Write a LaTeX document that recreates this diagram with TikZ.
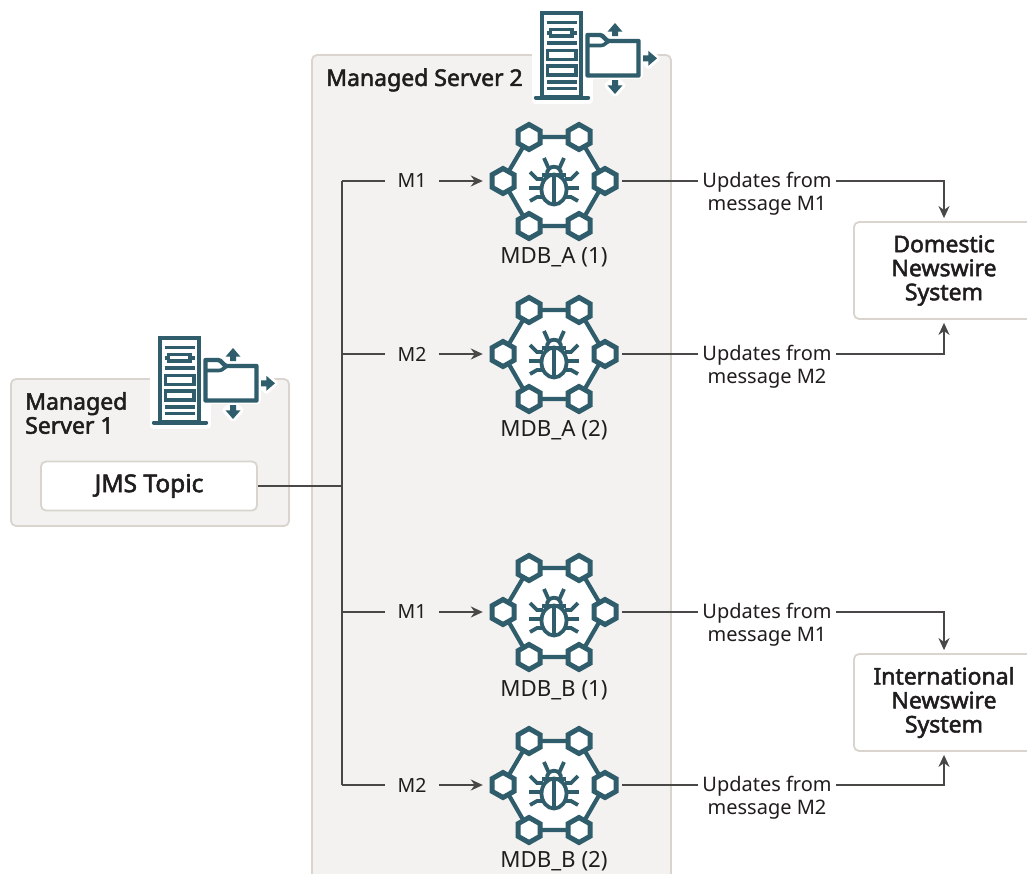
\documentclass[tikz,border=0pt]{standalone}
\usepackage{fontspec}
\setmainfont{Noto Sans}
\newfontfamily\medfont{Noto Sans}[FakeBold=2.2]
\usetikzlibrary{arrows.meta,calc}
\definecolor{teal}{HTML}{2F5D6B}
\definecolor{panelfill}{HTML}{F3F2F0}
\definecolor{panelline}{HTML}{D9D5CE}
\definecolor{wire}{HTML}{4A4846}
\definecolor{ink}{HTML}{201E1C}
\pgfdeclarelayer{bglayer}
\pgfdeclarelayer{wirelayer}
\pgfsetlayers{bglayer,wirelayer,main}
\tikzset{
  panel/.style={draw=panelline,fill=panelfill,line width=1.8pt,rounded corners=5pt},
  cardbox/.style={draw=panelline,fill=white,line width=1.8pt,rounded corners=5pt,align=center,text=ink,inner sep=0pt,font=\fontsize{23}{24}\selectfont\medfont},
  title/.style={text=ink,inner sep=0pt,align=left,font=\fontsize{23}{24}\selectfont\medfont},
  msglabel/.style={fill=panelfill,text=ink,inner xsep=13pt,inner ysep=2pt,font=\fontsize{19.5}{23}\selectfont},
  updlabel/.style={fill=white,text=ink,inner xsep=4pt,inner ysep=0pt,align=center,font=\fontsize{20}{23}\selectfont},
  mdblabel/.style={text=ink,inner sep=0pt,font=\fontsize{22.3}{23}\selectfont},
  mdbbox/.style={inner sep=0pt,minimum width=136pt,minimum height=120pt},
  wireline/.style={draw=wire,line width=1.9pt},
  arrowline/.style={wireline,-{Stealth[length=12pt,width=11pt]},shorten >=3pt},
  icon/.style={draw=teal,line width=4.4pt},
  iconthin/.style={draw=teal,line width=3.8pt},
  halo/.style={draw=white,fill=white,line width=7pt,line join=round},
  mdbpic/.pic={
    \path[icon,fill=white,line width=4.2pt] (-25,-44) -- (25,-44) -- (51,0) -- (25,45) -- (-25,45) -- (-51,0) -- cycle;
    \foreach \hx/\hy in {-25/-44,25/-44,-51/0,51/0,-25/45,25/45}{
      \path[icon,fill=white,line width=5pt,line join=miter]
        (\hx,\hy-12.5) -- (\hx+11,\hy-6.3) -- (\hx+11,\hy+6.3) -- (\hx,\hy+12.5) -- (\hx-11,\hy+6.3) -- (\hx-11,\hy-6.3) -- cycle;
    }
    % bug
    \path[iconthin] (0,8.5) ellipse [x radius=12.5,y radius=15];
    \path[iconthin] (0,-6) -- (0,23);
    \path[iconthin] (-12,-6) -- (12,-6);
    \path[iconthin] (-7,-6) .. controls (-8,-17) and (8,-17) .. (7,-6);
    \path[iconthin] (-5.5,-13) -- (-10,-23);
    \path[iconthin] (5.5,-13) -- (10,-23);
    \path[iconthin] (-25,7) -- (-12,7);
    \path[iconthin] (25,7) -- (12,7);
    \path[iconthin] (-24,-9) -- (-17,-2) -- (-11,-2);
    \path[iconthin] (24,-9) -- (17,-2) -- (11,-2);
    \path[iconthin] (-24,20) -- (-17,16) -- (-10,16);
    \path[iconthin] (24,20) -- (17,16) -- (10,16);
  },
  serverpic/.pic={
    % white halo
    \path[halo] (-5,-1) rectangle (49,89);
    \path[halo] (47,24) rectangle (99,64);
    \path[halo] (75,13) -- (82,20.7) -- (75,26) -- (68,20.7) -- cycle;
    \path[halo] (116,47.3) -- (108.3,54.3) -- (103,47.3) -- (108.3,40.3) -- cycle;
    \path[halo] (75,82) -- (82,74.3) -- (75,69) -- (68,74.3) -- cycle;
    % tower
    \path[icon,fill=white] (2,2) rectangle (41,86);
    \path[icon,line cap=round] (-4,86.8) -- (48,86.8);
    \path[icon,line width=3.6pt] (6.5,11.5) -- (37,11.5);
    \path[icon,line width=3.6pt,fill=white] (10.5,18.5) rectangle (32,25);
    \path[icon,line width=3.6pt] (6.5,21.8) -- (10.5,21.8) (32,21.8) -- (37,21.8);
    \path[icon,line width=3.6pt] (6.5,31.7) -- (37,31.7);
    \path[icon,line width=3.6pt] (7.5,39.5) rectangle (36,48.5);
    \path[icon,line width=3.6pt] (7.5,55) rectangle (36,64);
    \path[icon,line width=3.6pt] (6.5,70.7) -- (37,70.7);
    \path[icon,line width=3.6pt] (6.5,77.5) -- (37,77.5);
    % folder
    \path[icon,fill=white,line join=round] (47.5,24) -- (60,24) .. controls (64,24) and (65,30) .. (69,30) -- (98.5,30) -- (98.5,64.5) -- (47.5,64.5) -- cycle;
    \path[icon,line width=3.6pt] (47.5,34.5) -- (61,34.5) .. controls (65,34.5) and (66,31) .. (69,30);
    % arrows
    \path[fill=teal] (75,12) -- (82.5,20.7) -- (78,20.7) -- (78,25) -- (72,25) -- (72,20.7) -- (67.5,20.7) -- cycle;
    \path[fill=teal] (117,47.3) -- (108.3,54.8) -- (108.3,50.3) -- (103,50.3) -- (103,44.3) -- (108.3,44.3) -- (108.3,39.8) -- cycle;
    \path[fill=teal] (75,83) -- (82.5,74.3) -- (78,74.3) -- (78,69) -- (72,69) -- (72,74.3) -- (67.5,74.3) -- cycle;
  }
}
\begin{document}
\begin{tikzpicture}[x=1pt,y=-1pt]
\useasboundingbox (0,0) rectangle (1027,873);
\clip (0,0) rectangle (1027,873);
\begin{pgfonlayer}{bglayer}
  \fill[white] (0,0) rectangle (1027,873);
  \path[panel] (312,55) rectangle (671,900);
  \path[panel] (11,379) rectangle (289,526);
\end{pgfonlayer}

\pic at (540,11) {serverpic};
\pic at (158,336) {serverpic};

\node[title,anchor=west] (ms2) at (326,80) {Managed Server 2};
\node[title,anchor=north west] (ms1) at (25,392) {Managed\\Server 1};

\node[cardbox,font=\fontsize{24.5}{24}\selectfont\medfont,minimum width=216pt,minimum height=49pt] (jms) at (149,486) {JMS Topic};
\node[cardbox,minimum width=180pt,minimum height=97pt] (dom) at (944,270.5) {Domestic\\Newswire\\System};
\node[cardbox,minimum width=180pt,minimum height=97pt] (intl) at (944,702.5) {International\\Newswire\\System};

\node[mdbbox] (a1) at (554,181) {};
\node[mdbbox] (a2) at (554,354) {};
\node[mdbbox] (b1) at (554,612) {};
\node[mdbbox] (b2) at (554,785) {};
\pic at (a1) {mdbpic};
\pic at (a2) {mdbpic};
\pic at (b1) {mdbpic};
\pic at (b2) {mdbpic};
\node[mdblabel] (a1l) at (554,257) {MDB\_A (1)};
\node[mdblabel] (a2l) at (554,430) {MDB\_A (2)};
\node[mdblabel] (b1l) at (554,690) {MDB\_B (1)};
\node[mdblabel] (b2l) at (554,861) {MDB\_B (2)};

\coordinate (bus) at (342,486);
\coordinate (ba1) at (342,181);
\coordinate (ba2) at (342,354);
\coordinate (bb1) at (342,612);
\coordinate (bb2) at (342,785);

\node[msglabel] (ma1) at (412,181) {M1};
\node[msglabel] (ma2) at (412,354) {M2};
\node[msglabel] (mb1) at (412,612) {M1};
\node[msglabel] (mb2) at (412,785) {M2};

\node[updlabel] (ua1) at (767,193.5) {Updates from\\message M1};
\node[updlabel] (ua2) at (767,366.5) {Updates from\\message M2};
\node[updlabel] (ub1) at (767,624.5) {Updates from\\message M1};
\node[updlabel] (ub2) at (767,797.5) {Updates from\\message M2};

\begin{pgfonlayer}{wirelayer}
  \draw[wireline] (jms.east) -- (bus);
  \draw[wireline] (ba1) -- (bb2);
  \draw[arrowline] (ba1) -- (a1.west);
  \draw[arrowline] (ba2) -- (a2.west);
  \draw[arrowline] (bb1) -- (b1.west);
  \draw[arrowline] (bb2) -- (b2.west);
  \draw[arrowline] (a1.east) -| (dom.north);
  \draw[arrowline] (a2.east) -| (dom.south);
  \draw[arrowline] (b1.east) -| (intl.north);
  \draw[arrowline] (b2.east) -| (intl.south);
\end{pgfonlayer}
\end{tikzpicture}
\end{document}
